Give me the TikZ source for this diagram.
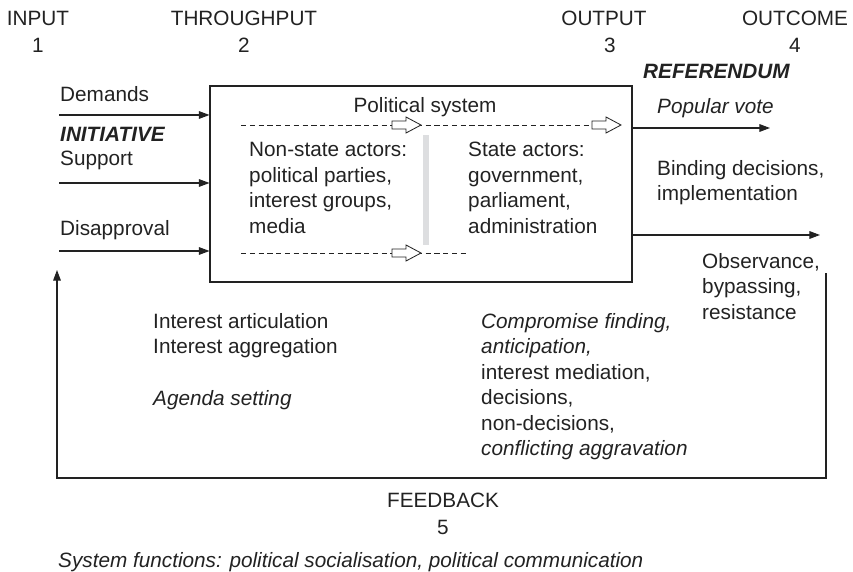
\documentclass[tikz,border=0pt]{standalone}
\usepackage{fontspec}
\setmainfont{Liberation Sans}
\usetikzlibrary{arrows.meta,fit}
\definecolor{ink}{HTML}{222222}
\definecolor{barcol}{HTML}{DDDEE0}
\tikzset{
  txt/.style={inner sep=0, text=ink, font=\fontsize{17.7}{21.8}\selectfont},
  lbl/.style={txt, anchor=base west},
  blk/.style={txt, anchor=north west, align=left},
  arr/.style={draw=ink, line width=0.9pt, -{Triangle[length=9pt,width=6.5pt]}},
  dash line/.style={draw=ink, line width=0.7pt, dash pattern=on 4.5pt off 3pt},
  hollow/.pic={\draw[ink, fill=white, line width=0.7pt]
    (-14,-4) -- (0,-4) -- (0,-8) -- (15,0) -- (0,8) -- (0,4) -- (-14,4) -- cycle;}
}
\begin{document}
\begin{tikzpicture}[x=0.03cm,y=-0.03cm]
  \useasboundingbox (0,0) rectangle (853,572);

  % stages
  \node[txt] (inp) at (38,18) {INPUT};
  \node[txt] (inpn) at (38,45) {1};
  \node[txt] (thr) at (244,18) {THROUGHPUT};
  \node[txt] (thrn) at (244,45) {2};
  \node[txt] (out) at (604,18) {OUTPUT};
  \node[txt] (outn) at (610,45) {3};
  \node[txt] (oc) at (795,18) {OUTCOME};
  \node[txt] (ocn) at (795,45) {4};
  \node[lbl] (ref) at (643,79) {\bfseries\itshape REFERENDUM};

  % political system
  \node (sys) [draw=ink, line width=0.9pt, fit={(210,86) (632,282)}, inner sep=0] {};
  \node[txt, anchor=base] (ps) at (425,113) {Political system};
  \fill[barcol] (423,135) rectangle (429,245);
  \node[blk] (nonstate) at (249,142) {Non-state actors:\\political parties,\\interest groups,\\media};
  \node[blk] (state) at (468,142) {State actors:\\government,\\parliament,\\administration};
  \path[dash line] (241,125) -- (592,125);
  \path[dash line] (241,253) -- (467,253);
  \pic at (406,125) {hollow};
  \pic at (606,125) {hollow};
  \pic at (406,253) {hollow};

  % inputs
  \node[lbl] (dem) at (60,102) {Demands};
  \node[lbl] (ini) at (60,142) {\bfseries\itshape INITIATIVE};
  \node[lbl] (sup) at (60,166) {Support};
  \node[lbl] (dis) at (60,235) {Disapproval};
  \coordinate (demIn) at (59,115);
  \coordinate (supIn) at (59,183);
  \coordinate (disIn) at (59,251);
  \draw[arr] (demIn) -- (demIn -| sys.west);
  \draw[arr] (supIn) -- (supIn -| sys.west);
  \draw[arr] (disIn) -- (disIn -| sys.west);

  % outputs
  \node[lbl] (vote) at (657,114) {\itshape Popular vote};
  \node[blk] (bind) at (657,160) {Binding decisions,\\implementation};
  \node[blk] (obs) at (702,253) {Observance,\\bypassing,\\resistance};
  \coordinate (voteOut) at (770,128);
  \coordinate (bindOut) at (820,235);
  \draw[arr] (voteOut -| sys.east) -- (voteOut);
  \draw[arr] (bindOut -| sys.east) -- (bindOut);

  % functions
  \node[blk] (artic) at (153,313) {Interest articulation\\Interest aggregation};
  \node[lbl] (agenda) at (153,405) {\itshape Agenda setting};
  \node[blk] (comp) at (481,313) {\itshape Compromise finding,\\\itshape anticipation,\\interest mediation,\\decisions,\\non-decisions,\\\itshape conflicting aggravation};

  % feedback loop
  \coordinate (fbTop) at (826,273);
  \coordinate (fbBot) at (826,478);
  \coordinate (fbEnd) at (57,270);
  \draw[arr] (fbTop) -- (fbBot) -| (fbEnd);
  \node[txt] (fb) at (443,500) {FEEDBACK};
  \node[txt] (fbn) at (443,527) {5};
  \node[lbl] (sysfn) at (58,567) {\itshape System functions: political socialisation, political communication};
\end{tikzpicture}
\end{document}
